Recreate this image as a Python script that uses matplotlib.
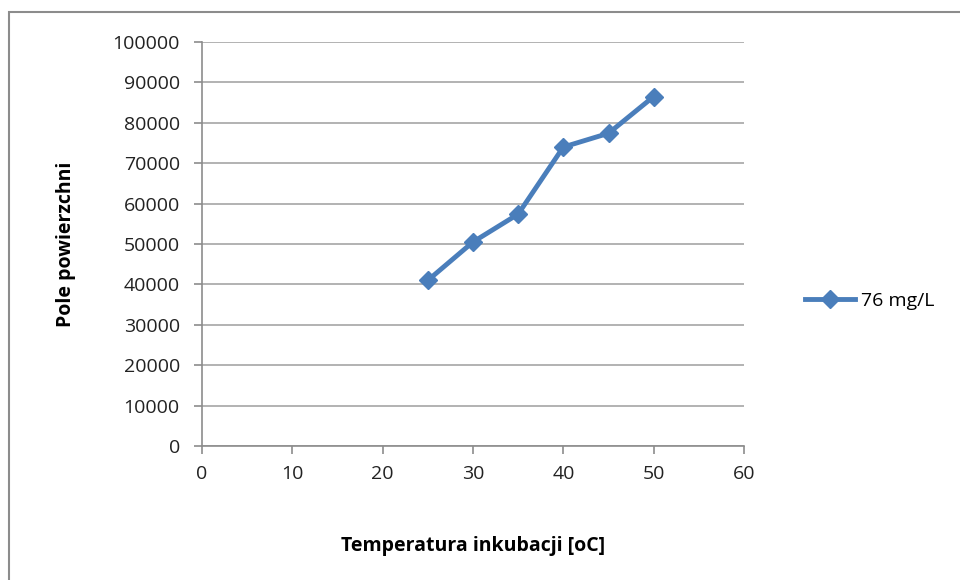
import matplotlib
matplotlib.use("Agg")
import matplotlib.pyplot as plt
from matplotlib.patches import Rectangle

plt.rcParams['font.family'] = ['Open Sans', 'DejaVu Sans']

temperatura = [25, 30, 35, 40, 45, 50]
pole = [41000, 50500, 57400, 74000, 77400, 86500]
seria = "76 mg/L"

fig = plt.figure(figsize=(9.6, 5.8), dpi=100)

# ramka wykresu (ucięta z prawej i od dołu)
fig.patches.append(Rectangle((9 / 960, -0.05), 1.2, 1 - 12 / 580 + 0.05,
                             transform=fig.transFigure, fill=False,
                             edgecolor='#8c8c8c', linewidth=1.5))

ax = fig.add_axes([202 / 960, 1 - 446 / 580, 542 / 960, 404 / 580])
ax.plot(temperatura, pole, color='#4a7ebb', linewidth=3.5,
        marker='D', markersize=9, label=seria)

ax.set_xlim(0, 60)
ax.set_ylim(0, 100000)
ax.set_xticks(range(0, 61, 10))
ax.set_yticks(range(0, 100001, 10000))
ax.yaxis.grid(True, color='#a6a6a6', linewidth=1.2)
ax.set_axisbelow(True)

for s in ['top', 'right']:
    ax.spines[s].set_visible(False)
for s in ['left', 'bottom']:
    ax.spines[s].set_color('#8c8c8c')
    ax.spines[s].set_linewidth(1.2)
ax.tick_params(axis='both', colors='#8c8c8c', length=6, width=1.2,
               labelcolor='#222222', labelsize=14)
ax.tick_params(axis='y', pad=10)
ax.tick_params(axis='x', pad=8)

ax.set_xlabel("Temperatura inkubacji [oC]", fontsize=14, fontweight='bold',
              labelpad=38)
ax.set_ylabel("Pole powierzchni", fontsize=14, fontweight='bold', labelpad=26)

ax.legend(loc='center left', bbox_to_anchor=(1.08, 0.36), frameon=False,
          fontsize=14, handlelength=2.6, handletextpad=0.3)

fig.savefig("out.png", dpi=100)
